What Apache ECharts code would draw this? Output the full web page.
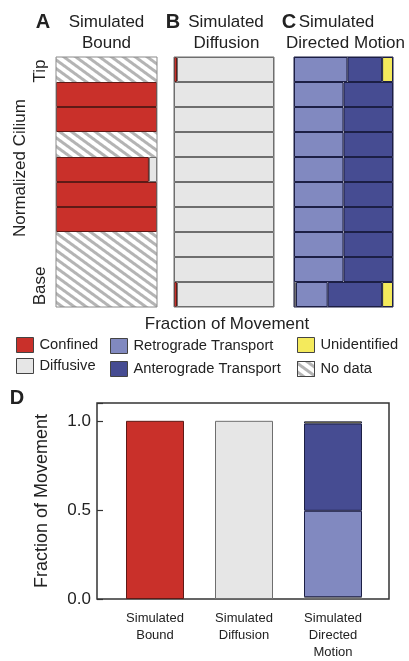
<!DOCTYPE html>
<html>
<head>
<meta charset="utf-8">
<script src="https://cdn.jsdelivr.net/npm/echarts@6/dist/echarts.min.js"></script>
<style>
  html, body { margin: 0; padding: 0; background: #fff; }
  #chart { width: 409px; height: 661px; }
</style>
</head>
<body>
<div id="chart"></div>
<script>
// cilium segments, tip (top) to base (bottom)
const segments = ['1', '2', '3', '4', '5', '6', '7', '8', '9', '10']

// A: simulated bound
const confinedA = [0, 1, 1, 0, 0.92, 1, 1, 0, 0, 0]
const diffusiveA = [0, 0, 0, 0, 0.08, 0, 0, 0, 0, 0]
const noDataA = [1, 0, 0, 1, 0, 0, 0, 1, 1, 1]

// B: simulated diffusion
const confinedB = [0.03, 0, 0, 0, 0, 0, 0, 0, 0, 0.03]
const diffusiveB = [0.97, 1, 1, 1, 1, 1, 1, 1, 1, 0.97]

// C: simulated directed motion
const diffusiveC = [0, 0, 0, 0, 0, 0, 0, 0, 0, 0.02]
const retroC = [0.54, 0.5, 0.5, 0.5, 0.5, 0.5, 0.5, 0.5, 0.5, 0.32]
const anteroC = [0.35, 0.5, 0.5, 0.5, 0.5, 0.5, 0.5, 0.5, 0.5, 0.55]
const unidC = [0.11, 0, 0, 0, 0, 0, 0, 0, 0, 0.11]

// D: overall fractions
const groups = ['Simulated\nBound', 'Simulated\nDiffusion', 'Simulated\nDirected\nMotion']
const confinedD = [1, 0, 0]
const diffusiveD = [0, 1, 0.01]
const retroD = [0, 0, 0.485]
const anteroD = [0, 0, 0.49]
const unidD = [0, 0, 0.012]

const RED = '#c9302a'
const GREY = '#e6e6e6'
const RETRO = '#8189c0'
const ANTERO = '#464c92'
const YELLOW = '#f4ea5c'
const FONT = 'Liberation Sans, Arial, sans-serif'

const blank = (arr) => arr.map((v) => (v ? v : '-'))

// grey diagonal stripes for "No data"
const hatch = {
  symbol: 'rect',
  symbolSize: 1,
  color: '#b4b4b4',
  dashArrayX: [1, 0],
  dashArrayY: [3, 4],
  rotation: Math.PI / 5,
}

const style = {
  Confined: { color: RED, borderColor: '#5e1a16', borderWidth: 1 },
  Diffusive: { color: GREY, borderColor: '#6e6e6e', borderWidth: 1 },
  'Retrograde Transport': { color: RETRO, borderColor: '#1c1f45', borderWidth: 1 },
  'Anterograde Transport': { color: ANTERO, borderColor: '#1c1f45', borderWidth: 1 },
  Unidentified: { color: YELLOW, borderColor: '#1c1f45', borderWidth: 1 },
  'No data': { color: '#fff', decal: hatch, borderWidth: 0 },
}

const rowBar = (name, data, idx) => ({
  name,
  type: 'bar',
  stack: 'p' + idx,
  xAxisIndex: idx,
  yAxisIndex: idx,
  barWidth: '100%',
  data: blank(data),
  itemStyle: style[name],
  silent: true,
})

const colBar = (name, data) => ({
  name,
  type: 'bar',
  stack: 'd',
  xAxisIndex: 3,
  yAxisIndex: 3,
  barWidth: 58,
  data: blank(data),
  itemStyle: style[name],
  silent: true,
})

const panelGrid = (left, width, border) => ({
  left, width, top: 57, height: 250,
  show: true, borderColor: border, borderWidth: 1, z: 5,
})

const rowX = (idx) => ({ type: 'value', gridIndex: idx, min: 0, max: 1, show: false })
const rowY = (idx) => ({ type: 'category', gridIndex: idx, data: segments, inverse: true, show: false })

const text = (x, y, t, font, rotation) => ({
  type: 'text', x, y, rotation: rotation || 0,
  style: {
    text: t, fill: '#222', font: font + ' ' + FONT,
    textAlign: 'center', textVerticalAlign: 'middle',
  },
})

const legend = (left, top, gap, data) => ({
  left, top, orient: 'vertical', padding: 0,
  itemWidth: 17, itemHeight: 15, itemGap: gap,
  icon: 'rect', selectedMode: false, data,
  itemStyle: { borderColor: '#444', borderWidth: 1 },
  textStyle: { fontSize: 14.7, color: '#222', fontFamily: FONT, padding: [0, 0, 0, 1] },
})

const myChart = echarts.init(document.getElementById('chart'), null, { renderer: 'canvas' })
myChart.setOption({
  animation: false,
  backgroundColor: '#fff',
  grid: [
    panelGrid(56, 101, '#8a8a8a'),
    panelGrid(174, 100, '#6e6e6e'),
    panelGrid(294, 99, '#1c1f45'),
    { left: 110.5, width: 267, top: 403, height: 196 },
    { left: 97, width: 292, top: 403, height: 196, show: true, borderColor: '#333', borderWidth: 1.5 },
  ],
  xAxis: [
    rowX(0), rowX(1), rowX(2),
    {
      type: 'category', gridIndex: 3, data: groups,
      axisLine: { show: false }, axisTick: { show: false },
      axisLabel: { fontSize: 13, lineHeight: 17, color: '#222', fontFamily: FONT, margin: 11 },
    },
    { type: 'value', gridIndex: 4, show: false },
  ],
  yAxis: [
    rowY(0), rowY(1), rowY(2),
    { type: 'value', gridIndex: 3, min: 0, max: 1.1, show: false },
    {
      type: 'value', gridIndex: 4, min: 0, max: 1.1, interval: 0.5,
      splitLine: { show: false },
      axisLine: { show: false },
      axisTick: { show: true, inside: true, length: 6, lineStyle: { color: '#333', width: 1.2 } },
      axisLabel: {
        fontSize: 17, color: '#222', fontFamily: FONT, margin: 6,
        formatter: (v) => (Math.abs(v * 2 - Math.round(v * 2)) < 1e-6 ? v.toFixed(1) : ''),
      },
      name: 'Fraction of Movement', nameLocation: 'middle', nameRotate: 90, nameGap: 46,
      nameTextStyle: { fontSize: 18, color: '#222', fontFamily: FONT },
    },
  ],
  legend: [
    legend(16, 337, 5, ['Confined', 'Diffusive']),
    legend(110, 338, 7, ['Retrograde Transport', 'Anterograde Transport']),
    legend(297, 337, 8, ['Unidentified', 'No data']),
  ],
  graphic: [
    text(43, 22, 'A', 'bold 20px'),
    text(106.5, 22, 'Simulated', '17px'),
    text(106.5, 43, 'Bound', '17px'),
    text(173, 22, 'B', 'bold 20px'),
    text(226, 22, 'Simulated', '17px'),
    text(226.5, 43, 'Diffusion', '17px'),
    text(289, 22, 'C', 'bold 20px'),
    text(336.5, 22, 'Simulated', '17px'),
    text(345.5, 43, 'Directed Motion', '17px'),
    text(40, 71, 'Tip', '17px', Math.PI / 2),
    text(20, 168, 'Normalized Cilium', '17px', Math.PI / 2),
    text(40, 286, 'Base', '17px', Math.PI / 2),
    text(227, 324, 'Fraction of Movement', '17px'),
    text(17, 398, 'D', 'bold 20px'),
  ],
  series: [
    rowBar('Confined', confinedA, 0),
    rowBar('Diffusive', diffusiveA, 0),
    rowBar('No data', noDataA, 0),
    rowBar('Confined', confinedB, 1),
    rowBar('Diffusive', diffusiveB, 1),
    rowBar('Diffusive', diffusiveC, 2),
    rowBar('Retrograde Transport', retroC, 2),
    rowBar('Anterograde Transport', anteroC, 2),
    rowBar('Unidentified', unidC, 2),
    colBar('Confined', confinedD),
    colBar('Diffusive', diffusiveD),
    colBar('Retrograde Transport', retroD),
    colBar('Anterograde Transport', anteroD),
    colBar('Unidentified', unidD),
  ],
})
</script>
</body>
</html>
